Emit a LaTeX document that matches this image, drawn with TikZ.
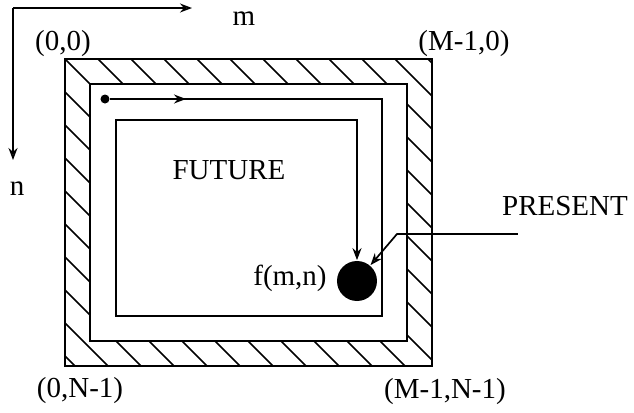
\documentclass[tikz,border=0pt]{standalone}
\usepackage{fontspec}
\setmainfont{Liberation Serif}
\usetikzlibrary{arrows.meta}

\begin{document}
\begin{tikzpicture}[
  x=0.5pt, y=-0.5pt,
  line width=0.85pt,
  font=\fontsize{14.5}{17}\selectfont,
  lbl/.style={anchor=base, inner sep=0pt},
  arr/.style={-{Stealth[open, length=6pt, width=4.5pt]}},
  dot/.style={circle, fill, inner sep=0pt, minimum size=#1},
]
\useasboundingbox (0,0) rectangle (634,413);

% axes
\coordinate (origin) at (13,8);
\coordinate (mend) at (192,8);
\coordinate (nend) at (13,160);
\draw[arr] (origin) -- (mend);
\draw[arr] (origin) -- (nend);
\node[lbl] (mlabel) at (244,25) {m};
\node[lbl] (nlabel) at (17,195) {n};

% hatched border
\begin{scope}[even odd rule]
  \clip (65,59) rectangle (432,366) (90,84) rectangle (407,341);
  \foreach \k in {-12,...,10} {
    \pgfmathsetmacro\c{-6+33*\k}
    \draw (0,\c) -- (700,{700+\c});
  }
\end{scope}
\draw (65,59) rectangle (432,366);
\draw (90,84) rectangle (407,341);

% corner labels
\node[lbl] (topleft) at (63,50) {(0,0)};
\node[lbl] (topright) at (464,50) {(M-1,0)};
\node[lbl] (botleft) at (80,397) {(0,N-1)};
\node[lbl] (botright) at (445,398) {(M-1,N-1)};

% scan path
\node[dot=4.5pt] (start) at (105,99) {};
\node[dot=20pt] (fmn) at (357,281) {};
\coordinate (tick) at (186,99);
\coordinate (c1) at (382,99);
\coordinate (c2) at (382,316);
\coordinate (c3) at (116,316);
\coordinate (c4) at (116,120);
\coordinate (c5) at (357,120);
\draw[arr] (start) -- (tick);
\draw[arr] (start) -- (c1) -- (c2) -- (c3) -- (c4) -- (c5) -- (fmn);

\node[lbl] (future) at (229,179) {FUTURE};
\node[lbl] (fmnlabel) at (290,285) {f(m,n)};

% present pointer
\node[lbl] (present) at (565,215) {PRESENT};
\coordinate (pin) at (518,234);
\coordinate (knee) at (397,234);
\draw[arr] (pin) -- (knee) -- (fmn);
\end{tikzpicture}
\end{document}
